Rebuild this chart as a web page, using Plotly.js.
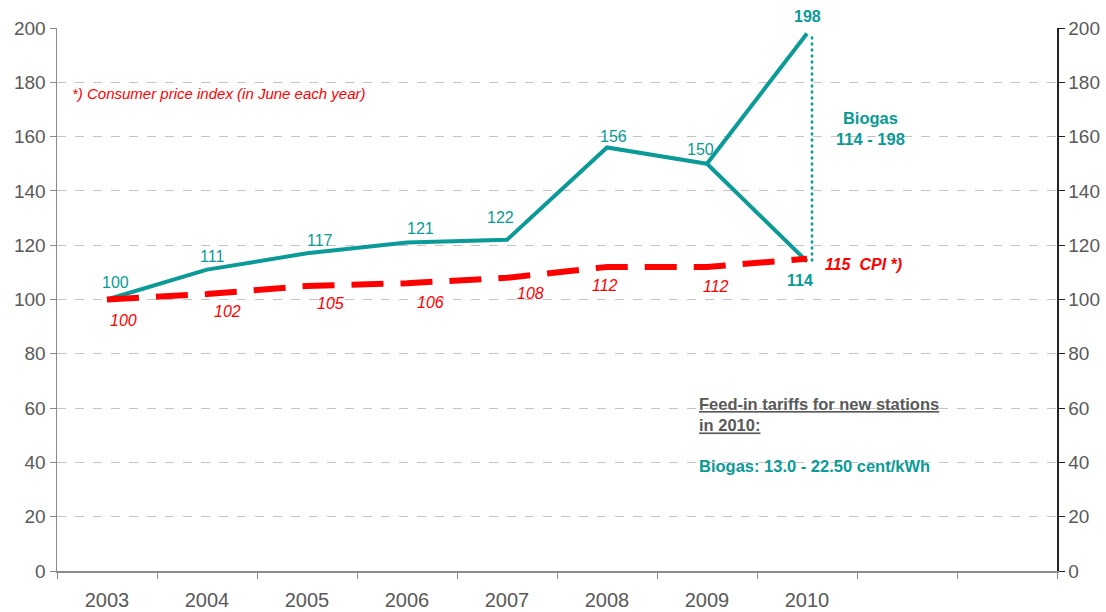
<!DOCTYPE html>
<html><head><meta charset="utf-8">
<script src="https://cdn.plot.ly/plotly-3.0.1.min.js"></script>
<style>html,body{margin:0;padding:0;background:#fff}</style>
</head><body>
<div id="chart" style="width:1106px;height:612px"></div>
<script>
// ---- data ----
const years = ['2003','2004','2005','2006','2007','2008','2009','2010'];
const biogas = [100, 111, 117, 121, 122, 156, 150, 198];
const biogasLow2010 = 114;
const cpi = [100, 102, 105, 106, 108, 112, 112, 115];
const yTicks = [0, 20, 40, 60, 80, 100, 120, 140, 160, 180, 200];
const slotCount = 10;
const tariffText = 'Biogas: 13.0 - 22.50 cent/kWh';

// ---- style ----
const TEAL = '#0a9a97';
const RED = '#ff0000';
const GREY = '#595959';
const FONT = 'Liberation Sans, Arial, sans-serif';

const idx = years.map((_, i) => i);
const last = years.length - 1;

// label offsets (pixels) for data labels
const biogasShift = [[8,17],[5,13],[13,13],[13,14],[-7,22],[6,11],[-7,14],[0,17]];
const cpiShift = [[16,-21],[20,-17],[23,-18],[23,-19],[23,-16],[-2,-19],[9,-20]];

const traces = [
  {x: idx, y: biogas, mode: 'lines', line: {color: TEAL, width: 4}, hoverinfo: 'skip'},
  {x: [last - 1, last], y: [biogas[last - 1], biogasLow2010], mode: 'lines', line: {color: TEAL, width: 4}, hoverinfo: 'skip'},
  {x: [last + 0.05, last + 0.05], y: [biogasLow2010, biogas[last]], mode: 'lines', line: {color: TEAL, width: 2.5, dash: 'dot'}, hoverinfo: 'skip'},
  {x: idx, y: cpi, mode: 'lines', line: {color: RED, width: 6, dash: '32px,17px'}, hoverinfo: 'skip'},
  {x: [0], y: [0], yaxis: 'y2', mode: 'markers', marker: {opacity: 0}, hoverinfo: 'skip'}
];

const LBL = 16;
const ann = [];
biogas.forEach((v, i) => {
  ann.push({x: i, y: v, xref: 'x', yref: 'y', text: i === last ? '<b>' + v + '</b>' : String(v),
    showarrow: false, xshift: biogasShift[i][0], yshift: biogasShift[i][1],
    font: {family: FONT, size: LBL, color: TEAL}});
});
ann.push({x: last, y: biogasLow2010, text: '<b>' + biogasLow2010 + '</b>', showarrow: false,
  xshift: -7, yshift: -19, font: {family: FONT, size: LBL, color: TEAL}});
cpi.forEach((v, i) => {
  if (i === last) {
    ann.push({x: i, y: v, text: '<b><i>' + v + '  CPI *)</i></b>', showarrow: false, xanchor: 'left',
      xshift: 16, yshift: -6, font: {family: FONT, size: LBL, color: RED}});
  } else {
    ann.push({x: i, y: v, text: '<i>' + v + '</i>', showarrow: false,
      xshift: cpiShift[i][0], yshift: cpiShift[i][1], font: {family: FONT, size: LBL, color: RED}});
  }
});
ann.push({x: -0.37, y: 176, text: '<i>*) Consumer price index (in June each year)</i>', showarrow: false,
  xanchor: 'left', font: {family: FONT, size: 15, color: RED}});
ann.push({x: 7.63, y: 163, text: '<b>Biogas<br>' + biogasLow2010 + ' - ' + biogas[last] + '</b>', showarrow: false,
  font: {family: FONT, size: 16.5, color: TEAL}});
ann.push({x: 5.9, y: 57.5, text: '<b><u>Feed-in tariffs for new stations</u><br><u>in 2010:</u></b>', showarrow: false,
  xanchor: 'left', align: 'left', font: {family: FONT, size: 16.5, color: GREY}});
ann.push({x: 5.9, y: 38.7, text: '<b>' + tariffText + '</b>', showarrow: false,
  xanchor: 'left', align: 'left', font: {family: FONT, size: 16.5, color: TEAL}});

const boundaries = Array.from({length: slotCount + 1}, (_, i) => i - 0.5);

const layout = {
  width: 1106, height: 612,
  margin: {l: 57, r: 49, t: 28, b: 41},
  paper_bgcolor: '#fff', plot_bgcolor: '#fff',
  showlegend: false, hovermode: false,
  font: {family: FONT, color: GREY},
  xaxis: {
    range: [-0.5, slotCount - 0.5], tickmode: 'array', tickvals: idx, ticktext: years,
    ticks: 'outside', ticklen: 10, tickcolor: 'rgba(0,0,0,0)',
    tickfont: {family: FONT, size: 20, color: GREY},
    showline: true, linecolor: '#8c8c8c', linewidth: 1.5, showgrid: false, zeroline: false,
    minor: {tickmode: 'array', tickvals: boundaries, ticks: 'outside', ticklen: 6, tickcolor: '#8c8c8c', tickwidth: 1, showgrid: false}
  },
  yaxis: {
    range: [0, 200], tickmode: 'array', tickvals: yTicks,
    ticks: 'outside', ticklen: 6, tickcolor: '#8c8c8c',
    tickfont: {family: FONT, size: 19, color: GREY},
    showline: true, linecolor: '#8c8c8c', linewidth: 1.5,
    showgrid: true, gridcolor: '#c4c4c4', griddash: 'dash', gridwidth: 1, zeroline: false
  },
  yaxis2: {
    range: [0, 200], overlaying: 'y', side: 'right', tickmode: 'array', tickvals: yTicks,
    ticks: 'outside', ticklen: 6, tickcolor: '#222',
    tickfont: {family: FONT, size: 19, color: GREY},
    showline: true, linecolor: '#222', linewidth: 1.5, showgrid: false, zeroline: false
  },
  annotations: ann
};

Plotly.newPlot('chart', traces, layout, {staticPlot: true, displayModeBar: false});
</script>
</body></html>
